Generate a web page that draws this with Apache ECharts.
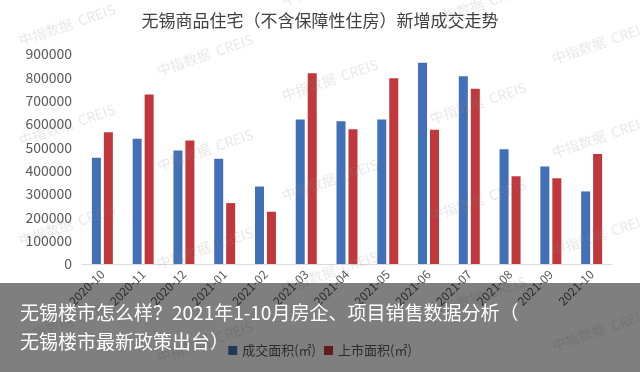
<!DOCTYPE html>
<html><head><meta charset="utf-8">
<script src="https://cdn.jsdelivr.net/npm/echarts@6/dist/echarts.min.js"></script>
<style>html,body{margin:0;padding:0;background:#fff}#c{width:640px;height:372px}</style>
</head><body><div id="c"></div>
<script>
const categories = ['2020-10','2020-11','2020-12','2021-01','2021-02','2021-03','2021-04','2021-05','2021-06','2021-07','2021-08','2021-09','2021-10'];
const dealArea = [455000,537000,486000,451000,332000,619000,612000,619000,862000,805000,492000,418000,311000];
const listedArea = [565000,726000,529000,261000,224000,818000,578000,796000,575000,751000,376000,368000,471000];
const seriesNames = ['成交面积(㎡)','上市面积(㎡)'];
const titleText = '无锡商品住宅（不含保障性住房）新增成交走势';
const captionLines = ['无锡楼市怎么样？2021年1-10月房企、项目销售数据分析（','无锡楼市最新政策出台）'];
const watermarkSpots = [[67,25],[67,125],[67,225],[67,322],[205,55],[205,150],[205,248],[205,342],[330,-15],[330,80],[330,180],[330,272],[478,5],[478,103],[478,200],[478,297],[600,43],[600,137],[600,235],[600,330]];

const font = "'Noto Sans CJK SC','Noto Sans',sans-serif";
const chart = echarts.init(document.getElementById('c'));
const graphics = watermarkSpots.map(p => ({
  type:'text', x:p[0], y:p[1], rotation:0.33, z:50, silent:true,
  style:{text:'中指数据  CREIS', fill:'rgba(140,140,140,0.2)', font:'14px '+font, align:'center', verticalAlign:'middle'}
}));
graphics.push({type:'rect', z:100, shape:{x:0,y:283,width:640,height:89}, style:{fill:'rgba(0,0,0,0.5)'}});
graphics.push({type:'text', z:101, x:20, y:313, style:{text:captionLines[0], fill:'#fff', font:'19px '+font, verticalAlign:'middle'}});
graphics.push({type:'text', z:101, x:20, y:342, style:{text:captionLines[1], fill:'#fff', font:'19px '+font, verticalAlign:'middle'}});

chart.setOption({
  animation:false,
  textStyle:{fontFamily:font},
  title:{text:titleText, left:'center', top:7, textStyle:{fontSize:17, fontWeight:'normal', color:'#404040', fontFamily:font}},
  legend:{bottom:10, left:'center', itemWidth:9, itemHeight:9, itemGap:8, icon:'rect',
    textStyle:{fontSize:13, color:'#595959', fontFamily:font}, data:seriesNames},
  grid:{left:82, right:28, top:54, bottom:108, containLabel:false},
  xAxis:{type:'category', data:categories,
    axisLine:{lineStyle:{color:'#d9d9d9'}}, axisTick:{show:false},
    axisLabel:{rotate:45, fontSize:12, color:'#595959', interval:0, margin:8}},
  yAxis:{type:'value', min:0, max:900000, interval:100000,
    splitLine:{show:false}, axisLine:{show:false}, axisTick:{show:false},
    axisLabel:{fontSize:14, color:'#595959', margin:10, formatter:v => String(v)}},
  series:[
    {name:seriesNames[0], type:'bar', data:dealArea, barWidth:9, barGap:'33%', itemStyle:{color:'#4170b8'}},
    {name:seriesNames[1], type:'bar', data:listedArea, barWidth:9, itemStyle:{color:'#c0383b'}}
  ],
  graphic:graphics
});
</script></body></html>
